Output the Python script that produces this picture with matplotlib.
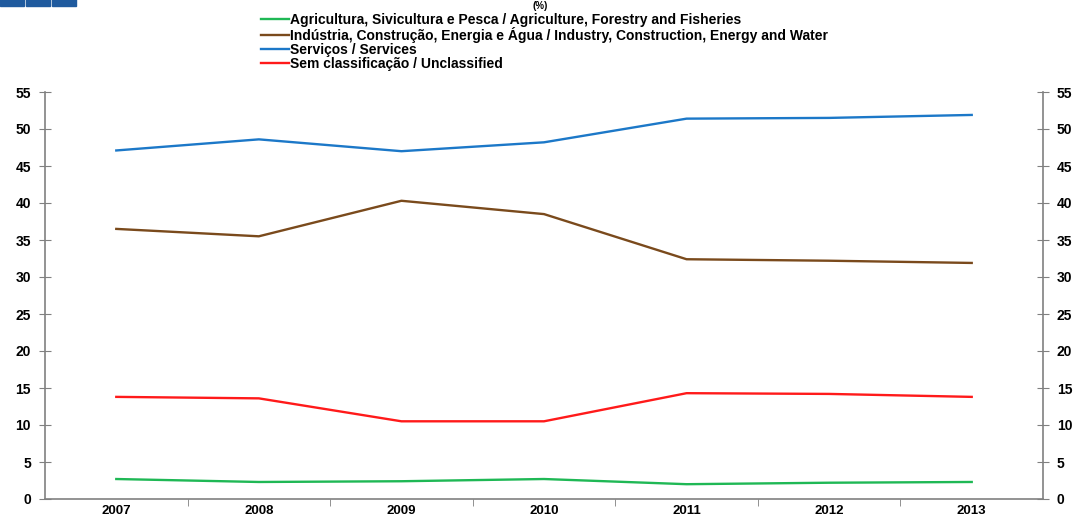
import matplotlib.pyplot as plt
from matplotlib.patches import Rectangle

plt.rcParams['font.family'] = ['Liberation Sans', 'DejaVu Sans']

years = ['2007', '2008', '2009', '2010', '2011', '2012', '2013']
agriculture = [2.7, 2.3, 2.4, 2.7, 2.0, 2.2, 2.3]
industry = [36.5, 35.5, 40.3, 38.5, 32.4, 32.2, 31.9]
services = [47.1, 48.6, 47.0, 48.2, 51.4, 51.5, 51.9]
unclassified = [13.8, 13.6, 10.5, 10.5, 14.3, 14.2, 13.8]

labels = ['Agricultura, Sivicultura e Pesca / Agriculture, Forestry and Fisheries',
          'Indústria, Construção, Energia e Água / Industry, Construction, Energy and Water',
          'Serviços / Services',
          'Sem classificação / Unclassified']
colors = ['#1fb855', '#7a4a1c', '#1c78c8', '#ff1a1a']

fig = plt.figure(figsize=(10.8, 5.17), dpi=100)
ax = fig.add_axes([45/1080, 18/517, 998/1080, 407/517])

x = range(len(years))
for vals, lab, c in zip([agriculture, industry, services, unclassified], labels, colors):
    ax.plot(x, vals, color=c, lw=1.7, label=lab)

ax.set_xlim(-0.5, len(years) - 0.5)
ax.set_ylim(0, 55)
ax.set_yticks(range(0, 56, 5))
ax.set_xticks(list(x))
ax.set_xticklabels(years, fontweight='bold', fontsize=9.5)
ax.set_xticks([i + 0.5 for i in range(len(years) - 1)], minor=True)
ax.tick_params(axis='x', which='major', length=0, pad=4)
ax.tick_params(axis='x', which='minor', length=5, direction='out', color='#808080')
ax.tick_params(axis='y', direction='inout', length=8, color='#808080',
               left=True, right=True, labelleft=True, labelright=True, labelsize=10, pad=6)
for t in ax.get_yticklabels():
    t.set_fontweight('bold')

ax.spines['top'].set_visible(False)
for s in ['left', 'right', 'bottom']:
    ax.spines[s].set_color('#808080')
    ax.spines[s].set_linewidth(1.2)

leg = fig.legend(loc='upper left', bbox_to_anchor=(261/1080, 1 - 13/517), frameon=False,
                 prop={'size': 10, 'weight': 'bold'}, handlelength=2.0, handletextpad=0.1,
                 labelspacing=0.0, borderaxespad=0, borderpad=0)

# logo squares and title
for i in range(3):
    fig.patches.append(Rectangle(((i * 26) / 1080, 1 - 6/517), 24/1080, 10/517,
                                 transform=fig.transFigure, color='#1f5a9e'))
fig.text(540/1080, 1 - 1/517, '(%)', ha='center', va='top', fontsize=7, fontweight='bold')

fig.savefig('out.png', dpi=100)
